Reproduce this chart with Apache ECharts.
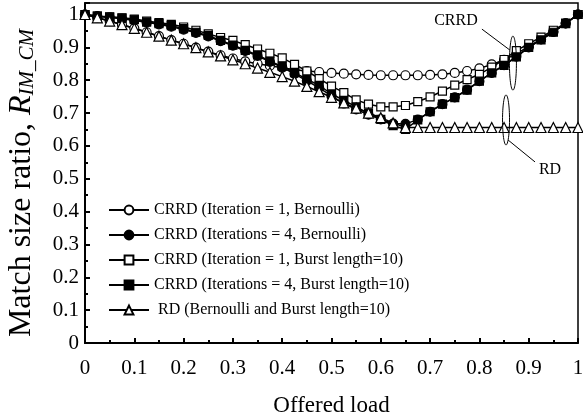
<!DOCTYPE html>
<html>
<head>
<meta charset="utf-8">
<script src="https://cdn.jsdelivr.net/npm/echarts@6/dist/echarts.min.js"></script>
<style>
  html, body { margin: 0; padding: 0; background: #fff; }
  #chart { width: 583px; height: 418px; }
</style>
</head>
<body>
<div id="chart"></div>
<script>
// offered load, step 0.025
const loads = [0, 0.025, 0.05, 0.075, 0.1, 0.125, 0.15, 0.175, 0.2, 0.225,
  0.25, 0.275, 0.3, 0.325, 0.35, 0.375, 0.4, 0.425, 0.45, 0.475,
  0.5, 0.525, 0.55, 0.575, 0.6, 0.625, 0.65, 0.675, 0.7, 0.725,
  0.75, 0.775, 0.8, 0.825, 0.85, 0.875, 0.9, 0.925, 0.95, 0.975, 1];

const crrdIt1Bern = [1.0, .990, .980, .969, .958, .946, .934, .922, .911, .899,
  .887, .876, .866, .857, .850, .844, .838, .832, .828, .825,
  .822, .820, .818, .816, .815, .815, .815, .815, .816, .818,
  .822, .828, .836, .848, .862, .880, .903, .925, .948, .973, 1.0];

const crrdIt4Bern = [1.0, .995, .991, .987, .982, .976, .970, .963, .954, .944,
  .933, .919, .905, .889, .874, .856, .839, .819, .798, .777,
  .752, .729, .711, .695, .681, .668, .667, .680, .704, .727,
  .748, .771, .797, .822, .846, .872, .900, .924, .947, .973, 1.0];

const crrdIt1Burst = [1.0, .995, .993, .990, .986, .980, .975, .970, .962, .952,
  .941, .930, .921, .908, .895, .882, .868, .848, .828, .805,
  .782, .762, .740, .727, .719, .719, .723, .735, .749, .767,
  .785, .802, .818, .840, .863, .890, .911, .931, .952, .974, 1.0];

const crrdIt4Burst = [1.0, .995, .992, .989, .984, .977, .972, .966, .957, .946,
  .936, .921, .907, .891, .877, .858, .842, .823, .803, .784,
  .758, .739, .719, .699, .681, .662, .650, .679, .704, .727,
  .747, .770, .797, .822, .845, .871, .900, .923, .946, .972, 1.0];

const rdBoth = [1.0, .990, .980, .969, .958, .946, .934, .922, .911, .899,
  .886, .874, .862, .850, .837, .824, .811, .797, .781, .765,
  .748, .731, .715, .700, .686, .670, .656, .656, .656, .656,
  .656, .656, .656, .656, .656, .656, .656, .656, .656, .656, .656];

const seriesNames = [
  'CRRD (Iteration = 1, Bernoulli)',
  'CRRD (Iterations = 4, Bernoulli)',
  'CRRD (Iteration = 1, Burst length=10)',
  'CRRD (Iterations = 4, Burst length=10)',
  ' RD (Bernoulli and Burst length=10)'
];
const xTicks = [0, 0.1, 0.2, 0.3, 0.4, 0.5, 0.6, 0.7, 0.8, 0.9, 1];
const yTicks = [0, 0.1, 0.2, 0.3, 0.4, 0.5, 0.6, 0.7, 0.8, 0.9, 1];

const font = 'Liberation Serif';
const myChart = echarts.init(document.getElementById('chart'));

const pairs = (ys) => loads.map((x, i) => [x, ys[i]]);

const makeSeries = (name, ys, symbol, fill, size) => ({
  name: name,
  type: 'line',
  data: pairs(ys),
  symbol: symbol,
  symbolSize: size,
  lineStyle: { color: '#000', width: 1.5 },
  itemStyle: { color: fill, borderColor: '#000', borderWidth: 1.2 },
  emphasis: { disabled: true },
  z: 3
});

myChart.setOption({
  animation: false,
  grid: {
    left: 85, right: 5, top: 3, bottom: 75,
    outerBoundsMode: 'none',
    show: true, borderColor: '#000', borderWidth: 1.5
  },
  legend: {
    orient: 'vertical',
    left: 103, top: 197,
    itemWidth: 40, itemHeight: 11, itemGap: 9,
    textStyle: { fontFamily: font, fontSize: 16, color: '#000' },
    data: seriesNames
  },
  xAxis: {
    type: 'value',
    min: 0, max: 1, interval: 0.1,
    name: 'Offered load',
    nameLocation: 'middle',
    nameGap: 51,
    nameTextStyle: { fontFamily: font, fontSize: 23, color: '#000' },
    axisLine: { lineStyle: { color: '#000', width: 2 } },
    axisTick: { inside: true, length: 5, lineStyle: { color: '#000', width: 2 } },
    minorTick: { show: true, splitNumber: 2, length: 3, lineStyle: { color: '#000', width: 2 } },
    splitLine: { show: false },
    axisLabel: {
      fontFamily: font, fontSize: 21, color: '#000', margin: 15,
      formatter: (v) => (xTicks.indexOf(Math.round(v * 10) / 10) >= 0 ? String(Math.round(v * 10) / 10) : '')
    }
  },
  yAxis: {
    type: 'value',
    min: 0, max: 1.035, interval: 0.1,
    name: 'Match size ratio, {i|R}{s|IM_CM}',
    nameLocation: 'middle',
    nameRotate: 90,
    nameGap: 47,
    nameTextStyle: {
      fontFamily: font, fontSize: 32, color: '#000',
      padding: [0, 20, 0, 0],
      rich: {
        i: { fontFamily: font, fontSize: 32, fontStyle: 'italic', color: '#000' },
        s: { fontFamily: font, fontSize: 21, fontStyle: 'italic', color: '#000',
             verticalAlign: 'bottom', lineHeight: 21 }
      }
    },
    axisLine: { lineStyle: { color: '#000', width: 2 } },
    axisTick: { inside: true, length: 5, lineStyle: { color: '#000', width: 2 } },
    minorTick: { show: true, splitNumber: 2, length: 3, lineStyle: { color: '#000', width: 2 } },
    splitLine: { show: false },
    axisLabel: {
      fontFamily: font, fontSize: 21, color: '#000', margin: 6,
      showMaxLabel: false,
      formatter: (v) => {
        const r = Math.round(v * 10) / 10;
        return yTicks.indexOf(r) >= 0 && Math.abs(r - v) < 1e-6 ? String(r) : '';
      }
    }
  },
  series: [
    makeSeries(seriesNames[0], crrdIt1Bern, 'circle', '#fff', 9),
    makeSeries(seriesNames[1], crrdIt4Bern, 'circle', '#000', 9),
    makeSeries(seriesNames[2], crrdIt1Burst, 'rect', '#fff', 8),
    makeSeries(seriesNames[3], crrdIt4Burst, 'rect', '#000', 8),
    makeSeries(seriesNames[4], rdBoth, 'triangle', '#fff', 10)
  ]
});

// annotation ellipses placed in data coordinates
const crrdMark = myChart.convertToPixel({ gridIndex: 0 }, [0.868, 0.852]);
const rdMark = myChart.convertToPixel({ gridIndex: 0 }, [0.854, 0.679]);

myChart.setOption({
  graphic: [
    { type: 'ellipse', shape: { cx: crrdMark[0], cy: crrdMark[1], rx: 3.5, ry: 27 },
      style: { fill: 'none', stroke: '#000', lineWidth: 1 }, z: 10 },
    { type: 'line', shape: { x1: crrdMark[0] - 31, y1: crrdMark[1] - 34, x2: crrdMark[0] - 3, y2: crrdMark[1] - 13 },
      style: { stroke: '#000', lineWidth: 1 }, z: 10 },
    { type: 'text', x: crrdMark[0] - 57, y: crrdMark[1] - 42,
      style: { text: 'CRRD', font: '16px "Liberation Serif"', fill: '#000', align: 'center', verticalAlign: 'middle' }, z: 10 },
    { type: 'ellipse', shape: { cx: rdMark[0], cy: rdMark[1], rx: 3.5, ry: 25 },
      style: { fill: 'none', stroke: '#000', lineWidth: 1 }, z: 10 },
    { type: 'line', shape: { x1: rdMark[0] + 2, y1: rdMark[1] + 20, x2: rdMark[0] + 29, y2: rdMark[1] + 42 },
      style: { stroke: '#000', lineWidth: 1 }, z: 10 },
    { type: 'text', x: rdMark[0] + 44, y: rdMark[1] + 50,
      style: { text: 'RD', font: '16px "Liberation Serif"', fill: '#000', align: 'center', verticalAlign: 'middle' }, z: 10 }
  ]
});

window.onresize = function () {
  myChart.resize();
};
</script>
</body>
</html>
